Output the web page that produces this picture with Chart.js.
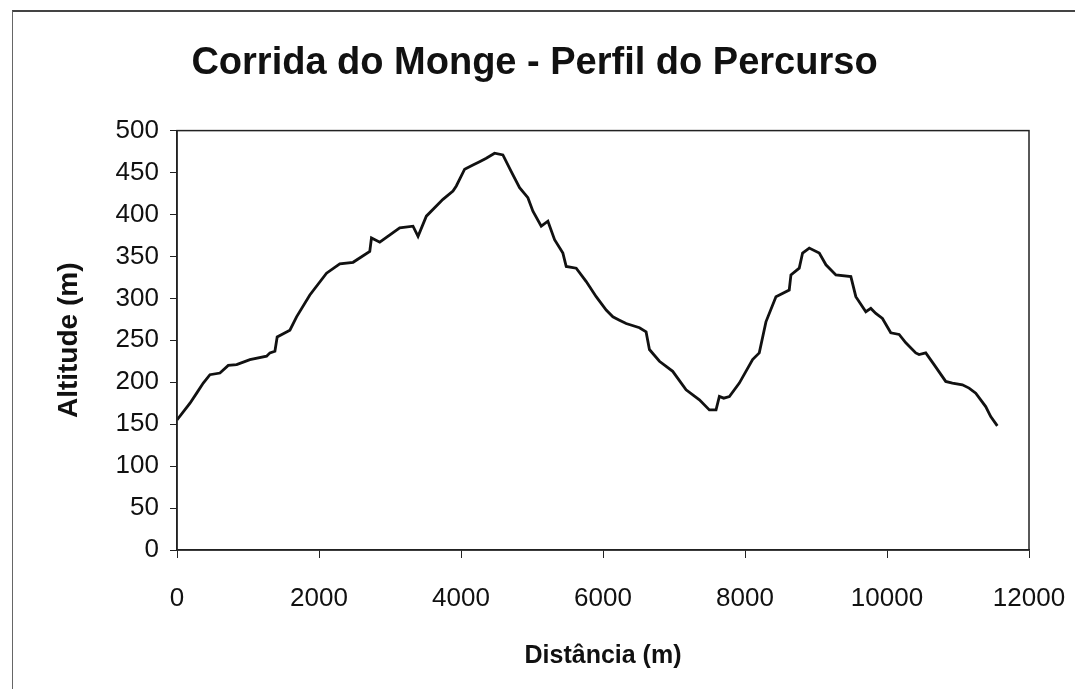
<!DOCTYPE html>
<html>
<head>
<meta charset="utf-8">
<script src="https://cdn.jsdelivr.net/npm/chart.js@4"></script>
<style>
  html, body { margin: 0; padding: 0; background: #fff; }
  #wrap { position: relative; width: 1075px; height: 689px; overflow: hidden; }
  #frame { position: absolute; left: 12px; top: 10px; right: -4px; bottom: -4px; border-left: 1px solid #666; border-top: 2px solid #444; }
</style>
</head>
<body>
<div id="wrap">
  <canvas id="myChart" width="1075" height="689"></canvas>
  <div id="frame"></div>
</div>
<script>
const distances = [0, 183, 277, 370, 464, 605, 722, 840, 1027, 1262, 1309, 1379, 1411, 1590, 1684, 1871, 2106, 2293, 2480, 2715,
  2739, 2856, 3137, 3324, 3395, 3512, 3746, 3887, 3934, 4051, 4168, 4262, 4356, 4473, 4590, 4708, 4825, 4942, 5013, 5130,
  5224, 5318, 5435, 5482, 5623, 5764, 5904, 6045, 6139, 6232, 6326, 6514, 6607, 6654, 6795, 6982, 7170, 7358, 7498, 7592,
  7639, 7700, 7780, 7920, 8107, 8201, 8295, 8436, 8623, 8647, 8764, 8811, 8905, 9046, 9140, 9280, 9491, 9561, 9702, 9772,
  9843, 9936, 10053, 10171, 10265, 10405, 10452, 10546, 10663, 10827, 10921, 11062, 11156, 11250, 11390, 11461, 11554];
const altitudes = [155, 175, 187, 199, 209, 211, 220, 221, 227, 231, 235, 237, 254, 262, 278, 304, 330, 341, 343, 356,
  372, 367, 384, 386, 374, 398, 418, 428, 434, 454, 459, 463, 467, 473, 471, 451, 432, 420, 404, 386,
  392, 370, 354, 338, 336, 320, 302, 286, 278, 274, 270, 265, 260, 239, 225, 213, 191, 179, 167, 167,
  183, 181, 183, 199, 227, 235, 272, 302, 310, 328, 336, 354, 360, 354, 340, 328, 326, 302, 284, 288,
  282, 276, 259, 257, 247, 235, 233, 235, 221, 201, 199, 197, 193, 187, 171, 159, 148];
const xTicks = [0, 2000, 4000, 6000, 8000, 10000, 12000];
const yTicks = [0, 50, 100, 150, 200, 250, 300, 350, 400, 450, 500];

const fontFamily = '"Liberation Sans", Arial, sans-serif';

// box round the plot area, like the spreadsheet chart
const plotBox = {
  id: 'plotBox',
  afterDraw(chart) {
    const a = chart.chartArea;
    const c = chart.ctx;
    c.save();
    c.strokeStyle = '#222';
    c.lineWidth = 1.5;
    c.strokeRect(a.left, a.top, a.right - a.left, a.bottom - a.top);
    c.restore();
  }
};

var ctx = document.getElementById('myChart').getContext('2d');
var myChart = new Chart(ctx, {
  type: 'line',
  data: {
    datasets: [{
      label: 'Altitude',
      data: distances.map((d, i) => ({ x: d, y: altitudes[i] })),
      borderColor: '#111',
      borderWidth: 2.8,
      pointRadius: 0,
      tension: 0,
      fill: false
    }]
  },
  options: {
    responsive: false,
    animation: false,
    layout: { padding: { left: 40, right: 46, top: 0, bottom: 0 } },
    plugins: {
      legend: { display: false },
      tooltip: { enabled: false },
      title: {
        display: true,
        text: 'Corrida do Monge - Perfil do Percurso',
        color: '#111',
        font: { family: fontFamily, size: 38, weight: 'bold' },
        padding: { top: 41, bottom: 44 }
      }
    },
    scales: {
      x: {
        type: 'linear',
        min: 0,
        max: 12000,
        afterBuildTicks: (s) => { s.ticks = xTicks.map(v => ({ value: v })); },
        afterFit: (s) => { s.height = 139; s.paddingLeft = 0; s.paddingRight = 0; },
        border: { display: true, color: '#222', width: 1.5 },
        grid: { drawOnChartArea: false, drawTicks: true, tickLength: 8, color: '#222' },
        ticks: { color: '#111', font: { family: fontFamily, size: 26 }, padding: 25, maxRotation: 0, callback: (v) => String(v) },
        title: { display: true, text: 'Distância (m)', color: '#111', font: { family: fontFamily, size: 25, weight: 'bold' }, padding: { top: 0, bottom: 18 } }
      },
      y: {
        min: 0,
        max: 500,
        afterBuildTicks: (s) => { s.ticks = yTicks.map(v => ({ value: v })); },
        afterFit: (s) => { s.width = 137; s.paddingTop = 0; s.paddingBottom = 0; },
        border: { display: true, color: '#222', width: 1.5 },
        grid: { drawOnChartArea: false, drawTicks: true, tickLength: 7, color: '#222' },
        ticks: { color: '#111', font: { family: fontFamily, size: 26 }, padding: 11, callback: (v) => String(v) },
        title: { display: true, text: 'Altitude (m)', color: '#111', font: { family: fontFamily, size: 28, weight: 'bold' }, padding: { top: 12, bottom: 0 } }
      }
    }
  },
  plugins: [plotBox]
});
</script>
</body>
</html>
